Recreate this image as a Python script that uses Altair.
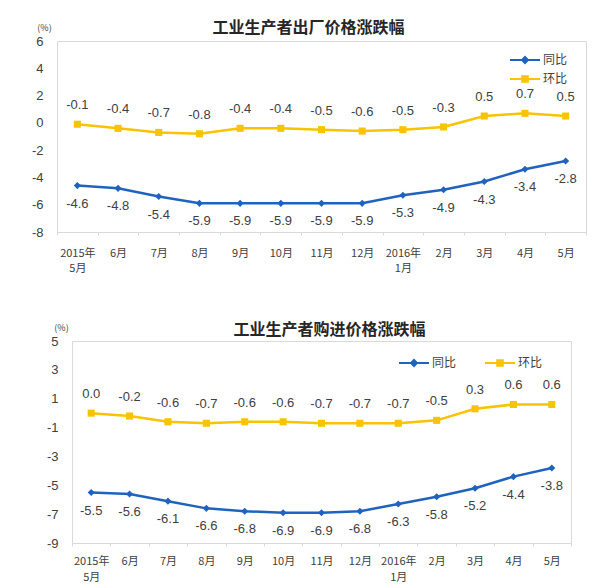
import altair as alt
import pandas as pd

months = ["2015年\n5月", "6月", "7月", "8月", "9月", "10月", "11月", "12月",
          "2016年\n1月", "2月", "3月", "4月", "5月"]
series_names = ["同比", "环比"]
colors = ["#1F63BE", "#F8C300"]

ppi_yoy = [-4.6, -4.8, -5.4, -5.9, -5.9, -5.9, -5.9, -5.9, -5.3, -4.9, -4.3, -3.4, -2.8]
ppi_mom = [-0.1, -0.4, -0.7, -0.8, -0.4, -0.4, -0.5, -0.6, -0.5, -0.3, 0.5, 0.7, 0.5]
pur_yoy = [-5.5, -5.6, -6.1, -6.6, -6.8, -6.9, -6.9, -6.8, -6.3, -5.8, -5.2, -4.4, -3.8]
pur_mom = [0.0, -0.2, -0.6, -0.7, -0.6, -0.6, -0.7, -0.7, -0.7, -0.5, 0.3, 0.6, 0.6]

top_ticks = [6, 4, 2, 0, -2, -4, -6, -8]
bottom_ticks = [5, 3, 1, -1, -3, -5, -7, -9]
titles = ["工业生产者出厂价格涨跌幅", "工业生产者购进价格涨跌幅"]
unit_label = "(%)"

CJK = "Noto Sans CJK SC"
NUM = "Liberation Sans"
TXT = "#404040"
GRID = "#D9D9D9"

# legend symbols: short line with a marker in the middle
leg_diamond = "M-3.75,-0.25H3.75V0.25H-3.75Z M0,-1.1L1.1,0L0,1.1L-1.1,0Z"
leg_square = "M-3.75,-0.25H3.75V0.25H-3.75Z M-0.95,-0.95H0.95V0.95H-0.95Z"


def make_df(yoy, mom):
    rows = []
    for name, vals in zip(series_names, [yoy, mom]):
        for m, v in zip(months, vals):
            rows.append({"month": m, "series": name, "value": v})
    return pd.DataFrame(rows)


def panel(yoy, mom, ticks, title, w, h, title_dx, title_dy, unit_x, leg, lab_pad, lab_lh):
    df = make_df(yoy, mom)
    cscale = alt.Scale(domain=series_names, range=colors)
    x = alt.X("month:N", sort=months,
              scale=alt.Scale(type="band", domain=months, paddingInner=0, paddingOuter=0),
              axis=alt.Axis(title=None, labelAngle=0, tickBand="extent",
                            labelExpr="split(datum.label, '\\n')",
                            labelFont=CJK, labelFontSize=11, labelColor=TXT,
                            labelLineHeight=lab_lh, tickSize=3, tickColor=GRID,
                            domainColor=GRID, labelPadding=lab_pad, grid=False))
    y = alt.Y("value:Q",
              scale=alt.Scale(domain=[ticks[-1], ticks[0]], nice=False, zero=False),
              axis=alt.Axis(values=ticks, format="d",
                            labelExpr="replace(datum.label, '\u2212', '-')",
                            title=unit_label, titleAngle=0,
                            titleX=unit_x, titleY=-14, titleAlign="center",
                            titleBaseline="middle", titleFontSize=9, titleFont=CJK,
                            titleFontWeight="normal", titleColor=TXT,
                            domain=False, ticks=False, grid=False,
                            labelFont=NUM, labelFontSize=13, labelColor=TXT,
                            labelPadding=14))
    base = alt.Chart(df).encode(x=x, y=y)

    line = base.mark_line(strokeWidth=2.5).encode(
        color=alt.Color("series:N", scale=cscale, legend=None))
    pts = base.mark_point(filled=True, opacity=1, size=50).encode(
        color=alt.Color("series:N", scale=cscale, legend=None),
        shape=alt.Shape("series:N", scale=alt.Scale(domain=series_names,
                                                     range=["diamond", "square"]),
                        legend=None))
    legend = alt.Legend(title=None, orient="none", legendX=leg["x"], legendY=leg["y"],
                        direction=leg["dir"], labelFont=CJK, labelFontSize=12,
                        labelColor=TXT, symbolSize=64, labelOffset=12,
                        rowPadding=7, columnPadding=28, padding=0)
    leg_layer = base.transform_filter("false").mark_point(filled=True, opacity=1).encode(
        color=alt.Color("series:N", scale=cscale, legend=legend),
        shape=alt.Shape("series:N", scale=alt.Scale(domain=series_names,
                                                     range=[leg_diamond, leg_square]),
                        legend=legend))
    lbl = base.transform_calculate(
        lbl="replace(format(datum.value, '.1f'), '\u2212', '-')")
    txt_mom = lbl.transform_filter(alt.datum.series == "环比").mark_text(
        font=NUM, fontSize=13, color=TXT, dy=-19).encode(text="lbl:N")
    txt_yoy = lbl.transform_filter(alt.datum.series == "同比").mark_text(
        font=NUM, fontSize=13, color=TXT, dy=18).encode(text="lbl:N")

    return alt.layer(line, pts, leg_layer, txt_mom, txt_yoy).resolve_scale(
        color="independent", shape="independent"
    ).properties(
        width=w, height=h,
        title=alt.TitleParams(text=title, font=CJK, fontSize=16, fontWeight="bold",
                              color="#262626", anchor="middle", dx=title_dx,
                              dy=title_dy, offset=5, frame="group"))


top = panel(ppi_yoy, ppi_mom, top_ticks, titles[0], 529, 191, -13, 18, -13,
            {"x": 462, "y": 13, "dir": "vertical"}, 12, 15)
bottom = panel(pur_yoy, pur_mom, bottom_ticks, titles[1], 499, 202, 8, 20, -11,
               {"x": 336, "y": 16, "dir": "horizontal"}, 9, 16)

chart = alt.vconcat(top, bottom, spacing=109, center=True, bounds="flush").properties(
    padding={"left": 22, "top": 11, "right": 5, "bottom": 0}
).configure_view(stroke=GRID, strokeWidth=1)

chart.save("out.html", embed_options={"renderer": "svg", "actions": False})
